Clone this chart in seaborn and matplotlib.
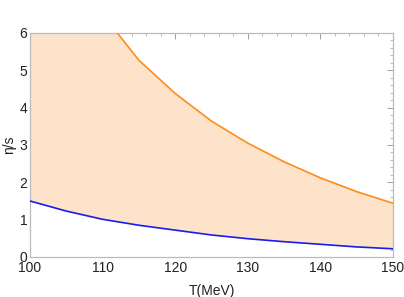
import matplotlib
matplotlib.use("Agg")
import matplotlib.pyplot as plt
import seaborn as sns
import pandas as pd
from matplotlib.ticker import MultipleLocator

T = [100, 105, 110, 115, 120, 125, 130, 135, 140, 145, 150]
upper = [9.5, 7.8, 6.5, 5.27, 4.38, 3.64, 3.05, 2.55, 2.12, 1.75, 1.44]
lower = [1.50, 1.23, 1.01, 0.85, 0.72, 0.59, 0.49, 0.41, 0.34, 0.27, 0.22]

df = pd.DataFrame({"T": T, "upper": upper, "lower": lower})

sns.set_style("white")
plt.rcParams['font.family'] = ['Liberation Sans', 'DejaVu Sans']

fig = plt.figure(figsize=(4.04, 2.97), dpi=100)
ax = fig.add_axes([30/404, 1-257/297, (393-30)/404, (257-33)/297])

ax.fill_between(df["T"], df["lower"], df["upper"], color="#FDE3CA", linewidth=0, zorder=1)
sns.lineplot(data=df, x="T", y="upper", color="#FF8C1A", linewidth=1.2, ax=ax, zorder=6)
sns.lineplot(data=df, x="T", y="lower", color="#1A1AEE", linewidth=1.2, ax=ax, zorder=6)

ax.set_xlim(100, 150)
ax.set_ylim(0, 6)
ax.xaxis.set_major_locator(MultipleLocator(10))
ax.xaxis.set_minor_locator(MultipleLocator(2))
ax.yaxis.set_major_locator(MultipleLocator(1))
ax.yaxis.set_minor_locator(MultipleLocator(0.2))

for s in ax.spines.values():
    s.set_color("#BBBBBB")
    s.set_linewidth(0.9)
    s.set_zorder(4)

ax.tick_params(which="both", direction="in", top=True, right=True, color="#A0A0A0",
               labelsize=10, labelcolor="#222222")
ax.tick_params(axis="x", pad=3)
ax.tick_params(axis="y", pad=2)
ax.tick_params(which="major", length=4, width=0.7)
ax.tick_params(which="minor", length=2, width=0.5)

ax.set_xlabel("T(MeV)", fontsize=10, color="#222222", labelpad=6)
ax.set_ylabel("η/s", fontsize=10, color="#222222", labelpad=2)

fig.savefig("out.png", dpi=100)
